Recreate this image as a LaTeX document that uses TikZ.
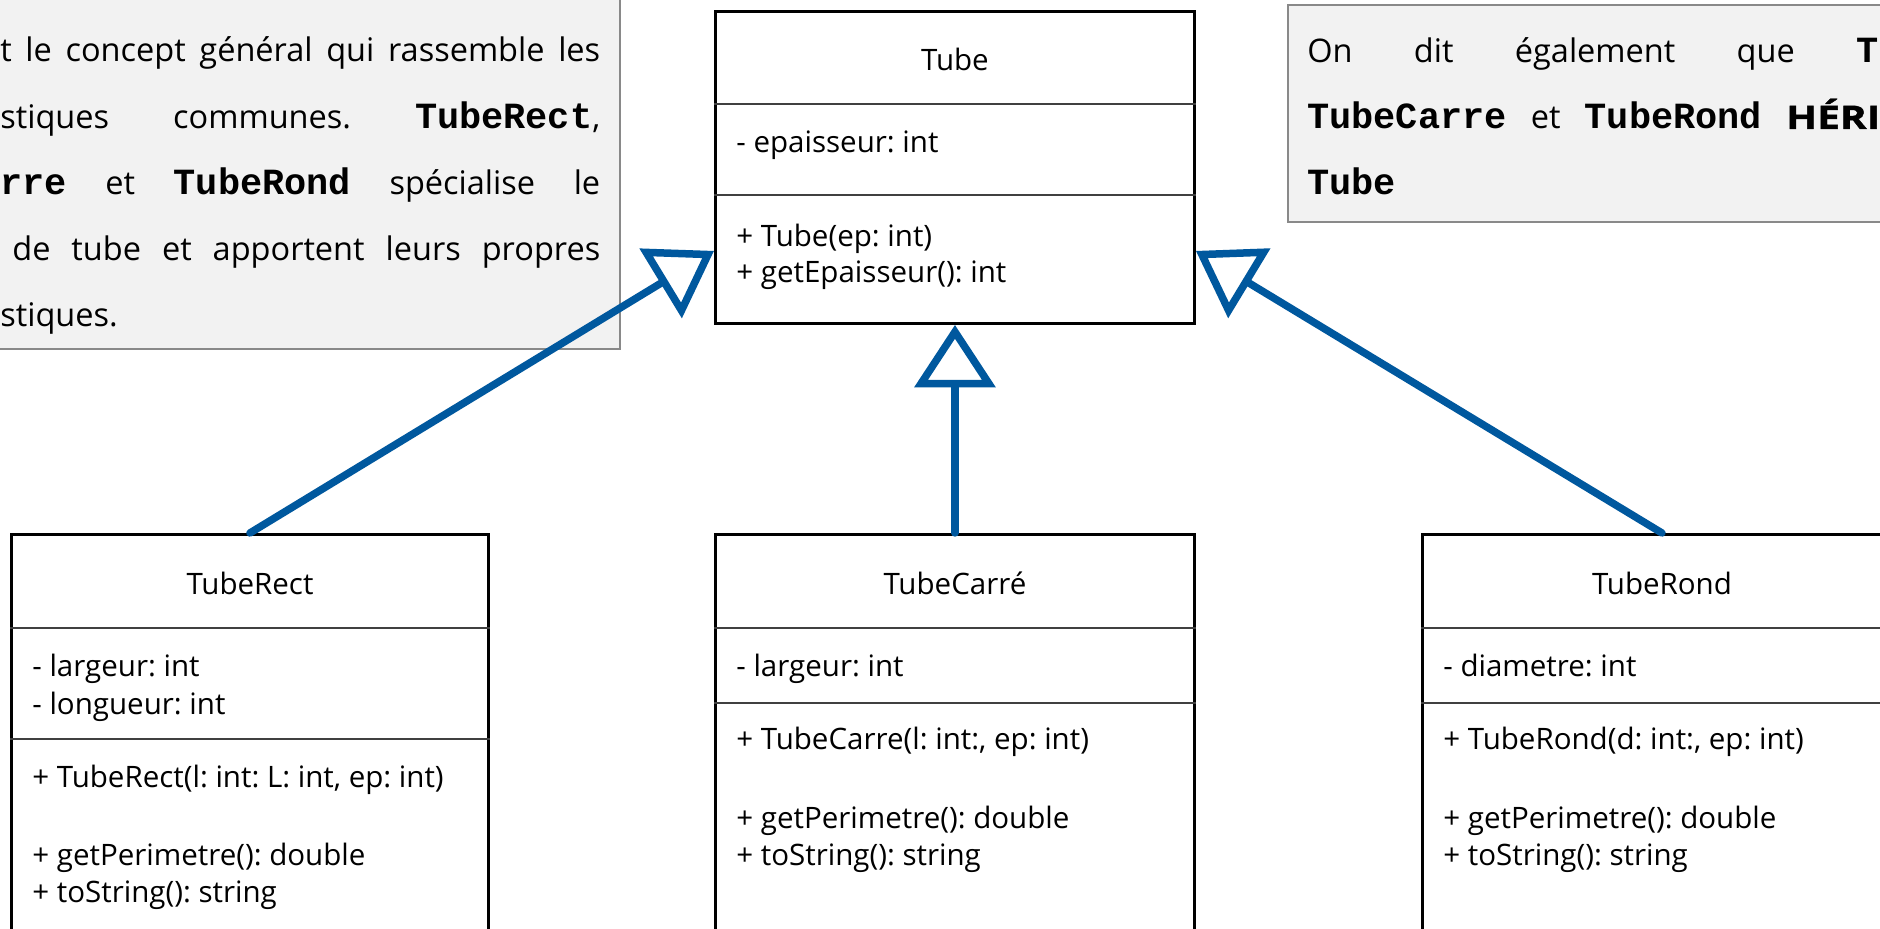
\documentclass[tikz,border=0pt]{standalone}
\usepackage{fontspec}
\setmainfont{Open Sans}
\newfontfamily\codefont{Liberation Mono}
\newfontfamily\grasfont{Open Sans}[FakeStretch=1.25, FakeBold=1.2]
\usetikzlibrary{calc,arrows.meta}

\definecolor{bleuuml}{RGB}{0,88,158}
\definecolor{fondnote}{RGB}{242,242,242}
\definecolor{bordnote}{RGB}{137,137,137}
\definecolor{trait}{RGB}{64,64,64}

\newcommand{\code}[1]{{\codefont\bfseries\fontsize{21}{25}\selectfont #1}}
\frenchspacing

\tikzset{
  classe/.style={draw=black, line width=0.06cm, fill=white, inner sep=0pt,
    minimum width=9.58cm, minimum height=8.4cm, anchor=north west},
  separe/.style={draw=trait, line width=0.035cm},
  titre/.style={font=\fontsize{16.8}{20}\selectfont, anchor=base, inner sep=0pt},
  membre/.style={font=\fontsize{16.8}{20}\selectfont, anchor=base west, inner sep=0pt},
  note/.style={draw=bordnote, line width=0.04cm, fill=fondnote},
  texte/.style={font=\fontsize{18.5}{22}\selectfont, anchor=base west, inner sep=0pt},
  heritage/.style={draw=bleuuml, line width=0.15cm, line cap=round,
    -{Triangle[open, length=1.25cm, width=1.6cm]}},
}

\begin{document}
\begin{tikzpicture}[x=0.02cm, y=0.02cm]
\path[use as bounding box, fill=white] (0,0) rectangle (1880,929);

% notes
\draw[note] (-20,960) rectangle (620,580);
\node[texte] (g1) at (0,867) {\makebox[12cm][s]{t le concept général qui rassemble les}};
\node[texte] (g2) at (0,800) {\makebox[12cm][s]{stiques communes. \code{TubeRect},}};
\node[texte] (g3) at (0,734) {\makebox[12cm][s]{\code{rre} et \code{TubeRond} spécialise le}};
\node[texte] (g4) at (12,668) {\makebox[11.76cm][s]{de tube et apportent leurs propres}};
\node[texte] (g5) at (0,602) {stiques.};

\draw[note] (1288,924) rectangle (1900,707);
\node[texte] (d1) at (1307,866) {\makebox[11.42cm][s]{On dit également que \code{T}}};
\node[texte] (d2) at (1307,800) {\makebox[11.46cm][s]{\code{TubeCarre} et \code{TubeRond} {\grasfont\bfseries HÉRI}}};
\node[texte] (d3) at (1307,734) {\code{Tube}};

% classes
\node[classe, minimum height=6.24cm] (tube) at (714,919) {};
\node[classe, minimum width=9.54cm] (rect) at (10,396) {};
\node[classe] (carre) at (714,396) {};
\node[classe] (rond) at (1421,396) {};

\foreach \c/\a/\b in {tube/94/185, rect/95/206, carre/95/170, rond/95/170}
  \draw[separe] ($(\c.north west)+(0,-\a)$) -- ($(\c.north east)+(0,-\a)$)
                ($(\c.north west)+(0,-\b)$) -- ($(\c.north east)+(0,-\b)$);

\node[titre] (tube-t) at ($(tube.north)+(0,-61)$) {Tube};
\node[membre] (tube-a1) at ($(tube.north west)+(22,-143)$) {- epaisseur: int};
\node[membre] (tube-m1) at ($(tube.north west)+(22,-237)$) {+ Tube(ep: int)};
\node[membre] (tube-m2) at ($(tube.north west)+(22,-273)$) {+ getEpaisseur(): int};

\node[titre] (rect-t) at ($(rect.north)+(0,-62)$) {TubeRect};
\node[membre] (rect-a1) at ($(rect.north west)+(22,-144)$) {- largeur: int};
\node[membre] (rect-a2) at ($(rect.north west)+(22,-182)$) {- longueur: int};
\node[membre] (rect-m1) at ($(rect.north west)+(22,-255)$) {+ TubeRect(l: int: L: int, ep: int)};
\node[membre] (rect-m2) at ($(rect.north west)+(22,-333)$) {+ getPerimetre(): double};
\node[membre] (rect-m3) at ($(rect.north west)+(22,-370)$) {+ toString(): string};

\node[titre] (carre-t) at ($(carre.north)+(0,-62)$) {TubeCarré};
\node[membre] (carre-a1) at ($(carre.north west)+(22,-144)$) {- largeur: int};
\node[membre] (carre-m1) at ($(carre.north west)+(22,-217)$) {+ TubeCarre(l: int:, ep: int)};
\node[membre] (carre-m2) at ($(carre.north west)+(22,-296)$) {+ getPerimetre(): double};
\node[membre] (carre-m3) at ($(carre.north west)+(22,-333)$) {+ toString(): string};

\node[titre] (rond-t) at ($(rond.north)+(0,-62)$) {TubeRond};
\node[membre] (rond-a1) at ($(rond.north west)+(22,-144)$) {- diametre: int};
\node[membre] (rond-m1) at ($(rond.north west)+(22,-217)$) {+ TubeRond(d: int:, ep: int)};
\node[membre] (rond-m2) at ($(rond.north west)+(22,-296)$) {+ getPerimetre(): double};
\node[membre] (rond-m3) at ($(rond.north west)+(22,-333)$) {+ toString(): string};

% heritage
\coordinate (tube-g) at ($(tube.south west)!0.235!(tube.north west)$);
\coordinate (tube-d) at ($(tube.south east)!0.235!(tube.north east)$);
\draw[heritage] (rect.north) -- (tube-g);
\draw[heritage] (carre.north) -- (tube.south);
\draw[heritage] (rond.north) -- (tube-d);
\end{tikzpicture}
\end{document}
